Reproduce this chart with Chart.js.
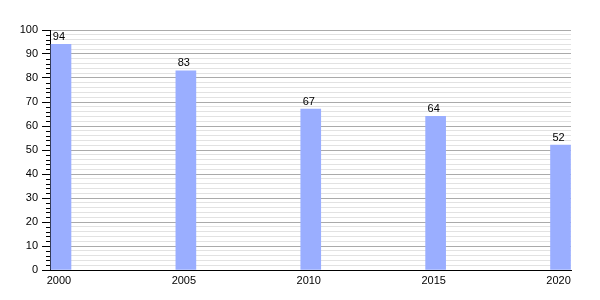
<!DOCTYPE html>
<html>
<head>
<meta charset="utf-8">
<script src="https://cdn.jsdelivr.net/npm/chart.js@4/dist/chart.umd.min.js"></script>
<style>
  html, body { margin: 0; padding: 0; background: #fff; }
  #wrap { width: 600px; height: 300px; }
</style>
</head>
<body>
<div id="wrap"><canvas id="myChart" width="600" height="300"></canvas></div>
<script>
const years = [2000, 2005, 2010, 2015, 2020];
const values = [94, 83, 67, 64, 52];

const points = years.map((y, i) => ({ x: y, y: values[i] }));

// value labels over the bars
const valueLabels = {
    id: 'valueLabels',
    afterDatasetsDraw(chart) {
        const ctx = chart.ctx;
        const meta = chart.getDatasetMeta(0);
        ctx.save();
        ctx.fillStyle = '#000';
        ctx.font = '11px "Liberation Sans", Arial, sans-serif';
        ctx.textAlign = 'center';
        ctx.textBaseline = 'bottom';
        meta.data.forEach((bar, i) => {
            ctx.fillText(String(values[i]), bar.x - 2, bar.y - 2);
        });
        ctx.restore();
    }
};

// short ticks for the minor y steps
const minorTicks = {
    id: 'minorTicks',
    afterDraw(chart) {
        const y = chart.scales.y;
        const ctx = chart.ctx;
        const left = chart.chartArea.left;
        ctx.save();
        ctx.strokeStyle = '#000';
        ctx.lineWidth = 1;
        y.ticks.forEach(t => {
            if (t.value % 10 !== 0) {
                const py = Math.round(y.getPixelForValue(t.value)) + 0.5;
                ctx.beginPath();
                ctx.moveTo(left - 4, py);
                ctx.lineTo(left, py);
                ctx.stroke();
            }
        });
        ctx.restore();
    }
};

new Chart(document.getElementById('myChart').getContext('2d'), {
    type: 'bar',
    data: {
        datasets: [{
            data: points,
            backgroundColor: '#9aaeff',
            borderWidth: 0,
            barThickness: 20
        }]
    },
    options: {
        responsive: false,
        animation: false,
        layout: { padding: { top: 30, right: 29, left: 0, bottom: 0 } },
        plugins: {
            legend: { display: false },
            tooltip: { enabled: false }
        },
        scales: {
            x: {
                type: 'linear',
                offset: false,
                min: 1999.56,
                max: 2020.42,
                afterBuildTicks(scale) {
                    scale.ticks = years.map(v => ({ value: v }));
                },
                afterFit(scale) { scale.height = 30; },
                grid: { display: false, drawTicks: false, offset: false },
                border: { color: '#000', width: 1 },
                ticks: {
                    color: '#000',
                    padding: 4,
                    labelOffset: -2,
                    maxRotation: 0,
                    font: { family: '"Liberation Sans", Arial, sans-serif', size: 11 },
                    callback: v => String(v)
                }
            },
            y: {
                min: 0,
                max: 100,
                afterFit(scale) { scale.width = 50; },
                ticks: {
                    stepSize: 2,
                    autoSkip: false,
                    color: '#000',
                    padding: 4,
                    font: { family: '"Liberation Sans", Arial, sans-serif', size: 11 },
                    callback: v => (v % 10 === 0 ? String(v) : '')
                },
                grid: {
                    color: c => (c.tick && c.tick.value % 10 === 0 ? '#aaaaaa' : '#e2e2e2'),
                    tickColor: c => (c.tick && c.tick.value % 10 === 0 ? '#000' : 'rgba(0,0,0,0)'),
                    tickLength: 8
                },
                border: { color: '#000', width: 1 }
            }
        }
    },
    plugins: [valueLabels, minorTicks]
});
</script>
</body>
</html>
